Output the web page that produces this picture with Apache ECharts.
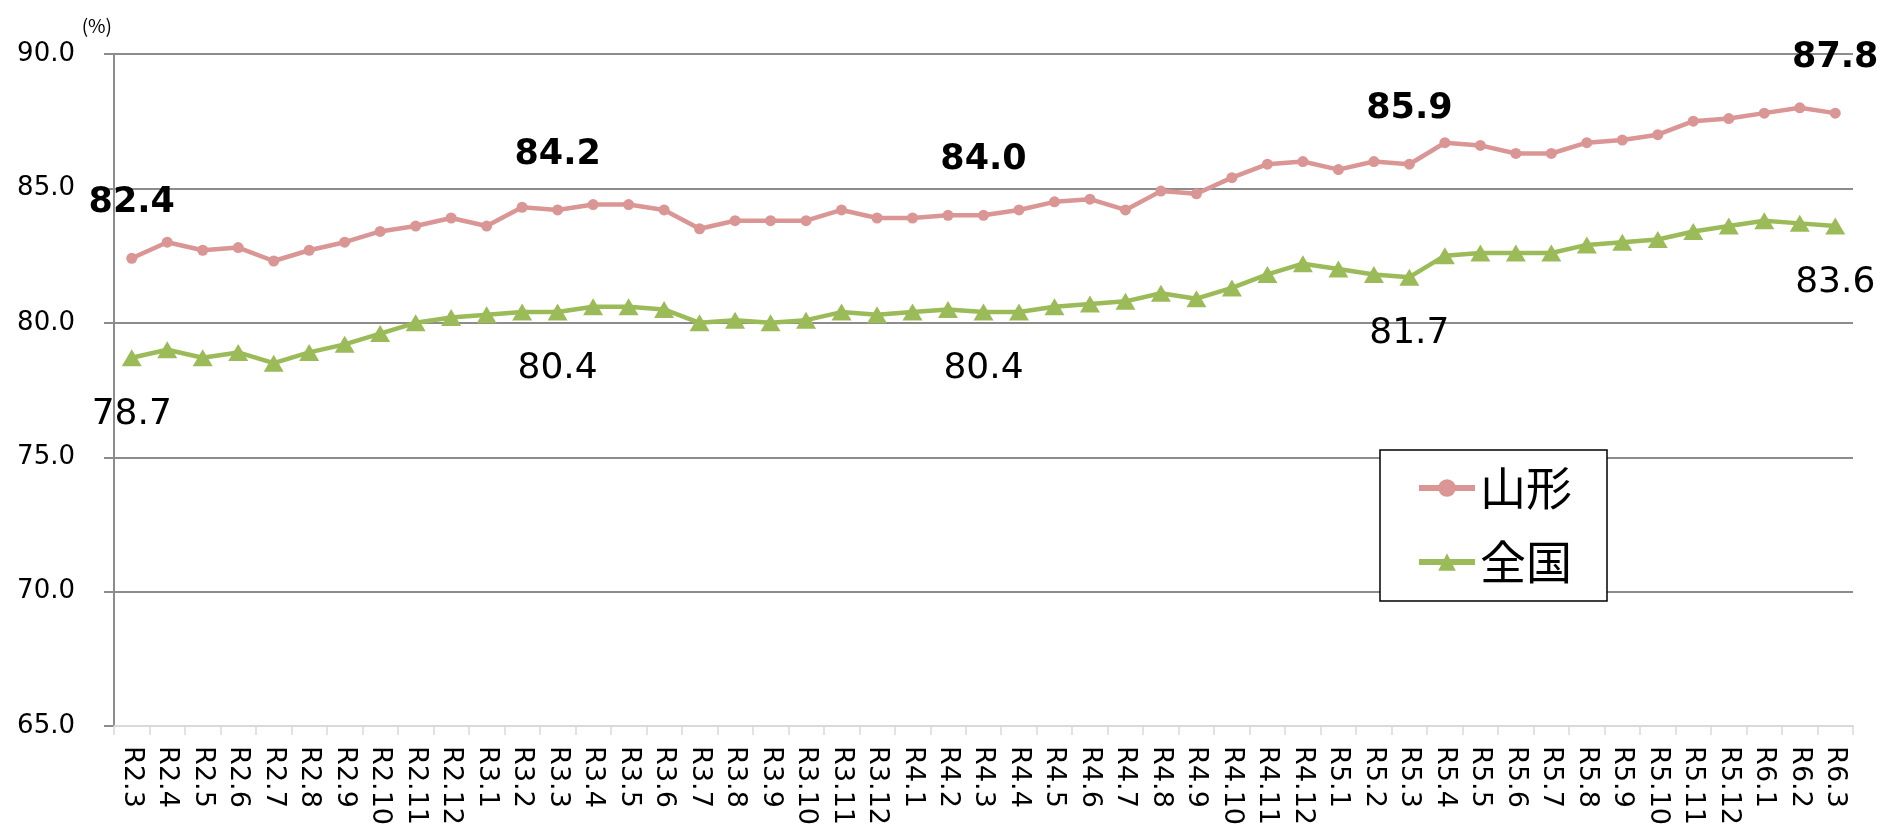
<!DOCTYPE html>
<html>
<head>
<meta charset="utf-8">
<title>山形・全国 推移</title>
<script src="https://cdn.jsdelivr.net/npm/echarts@6/dist/echarts.min.js"></script>
<style>
  html, body { margin: 0; padding: 0; background: #fff; }
  #chart { width: 1882px; height: 828px; }
</style>
</head>
<body>
<div id="chart"></div>
<script>
// Monthly categories, R2.3 through R6.3
const categories = [
  'R2.3','R2.4','R2.5','R2.6','R2.7','R2.8','R2.9','R2.10','R2.11','R2.12',
  'R3.1','R3.2','R3.3','R3.4','R3.5','R3.6','R3.7','R3.8','R3.9','R3.10','R3.11','R3.12',
  'R4.1','R4.2','R4.3','R4.4','R4.5','R4.6','R4.7','R4.8','R4.9','R4.10','R4.11','R4.12',
  'R5.1','R5.2','R5.3','R5.4','R5.5','R5.6','R5.7','R5.8','R5.9','R5.10','R5.11','R5.12',
  'R6.1','R6.2','R6.3'
];

// 山形 (%)
const yamagata = [
  82.4, 83.0, 82.7, 82.8, 82.3, 82.7, 83.0, 83.4, 83.6, 83.9,
  83.6, 84.3, 84.2, 84.4, 84.4, 84.2, 83.5, 83.8, 83.8, 83.8, 84.2, 83.9,
  83.9, 84.0, 84.0, 84.2, 84.5, 84.6, 84.2, 84.9, 84.8, 85.4, 85.9, 86.0,
  85.7, 86.0, 85.9, 86.7, 86.6, 86.3, 86.3, 86.7, 86.8, 87.0, 87.5, 87.6,
  87.8, 88.0, 87.8
];

// 全国 (%)
const zenkoku = [
  78.7, 79.0, 78.7, 78.9, 78.5, 78.9, 79.2, 79.6, 80.0, 80.2,
  80.3, 80.4, 80.4, 80.6, 80.6, 80.5, 80.0, 80.1, 80.0, 80.1, 80.4, 80.3,
  80.4, 80.5, 80.4, 80.4, 80.6, 80.7, 80.8, 81.1, 80.9, 81.3, 81.8, 82.2,
  82.0, 81.8, 81.7, 82.5, 82.6, 82.6, 82.6, 82.9, 83.0, 83.1, 83.4, 83.6,
  83.8, 83.7, 83.6
];

// Months (each March) whose values are printed on the chart
const labelledMonths = ['R2.3', 'R3.3', 'R4.3', 'R5.3', 'R6.3'];

// Value axis range
const yMin = 65;
const yMax = 90;
const yStep = 5;

const NUM_FONT = 'DejaVu Sans, Verdana, sans-serif';
const CJK_FONT = '"Noto Sans CJK JP", sans-serif';

function withLabels(values, labelStyle) {
  return values.map((v, i) => {
    if (labelledMonths.indexOf(categories[i]) === -1) return v;
    return { value: v, label: Object.assign({ show: true }, labelStyle) };
  });
}

const chart = echarts.init(document.getElementById('chart'), null, { renderer: 'canvas' });

chart.setOption({
  animation: false,
  backgroundColor: '#ffffff',
  grid: { left: 114, right: 29, top: 54, bottom: 101, containLabel: false },
  legend: {
    orient: 'vertical',
    left: 1380,
    top: 450,
    padding: [13, 35, 14, 36],
    itemGap: 24,
    itemWidth: 56,
    itemHeight: 22,
    backgroundColor: '#ffffff',
    borderColor: '#000000',
    borderWidth: 1.5,
    borderRadius: 0,
    lineStyle: { width: 6 },
    textStyle: {
      fontFamily: CJK_FONT,
      fontSize: 46,
      lineHeight: 50,
      color: '#000000',
      padding: [0, 0, 0, 0]
    },
    data: ['山形', '全国']
  },
  xAxis: {
    type: 'category',
    data: categories,
    boundaryGap: true,
    axisLine: { show: true, lineStyle: { color: '#d9d9d9', width: 2 } },
    axisTick: { show: true, length: 9, alignWithLabel: false, interval: 0, lineStyle: { color: '#d9d9d9', width: 1.5 } },
    axisLabel: {
      interval: 0,
      rotate: -90,
      margin: 20,
      fontFamily: NUM_FONT,
      fontSize: 27,
      color: '#000000'
    },
    splitLine: { show: false }
  },
  yAxis: {
    type: 'value',
    min: yMin,
    max: yMax,
    interval: yStep,
    name: '(%)',
    nameLocation: 'end',
    nameGap: 19,
    nameTextStyle: {
      fontFamily: CJK_FONT,
      fontSize: 19,
      color: '#000000',
      align: 'right',
      padding: [0, 2, 0, 0]
    },
    axisLine: { show: true, lineStyle: { color: '#8c8c8c', width: 2 } },
    axisTick: { show: true, length: 10, lineStyle: { color: '#8c8c8c', width: 2 } },
    axisLabel: {
      margin: 39,
      fontFamily: NUM_FONT,
      fontSize: 26,
      color: '#000000',
      formatter: v => v.toFixed(1)
    },
    splitLine: { show: true, lineStyle: { color: '#8c8c8c', width: 2 } }
  },
  series: [
    {
      name: '山形',
      type: 'line',
      data: withLabels(yamagata, {
        position: 'top',
        distance: 32,
        fontFamily: NUM_FONT,
        fontSize: 35,
        fontWeight: 'bold',
        color: '#000000',
        formatter: p => Number(p.value).toFixed(1)
      }),
      symbol: 'circle',
      symbolSize: 11,
      showAllSymbol: true,
      lineStyle: { color: '#da9694', width: 4.5 },
      itemStyle: { color: '#da9694' },
      label: { show: false }
    },
    {
      name: '全国',
      type: 'line',
      data: withLabels(zenkoku, {
        position: 'bottom',
        distance: 30,
        fontFamily: NUM_FONT,
        fontSize: 36,
        fontWeight: 'normal',
        color: '#000000',
        formatter: p => Number(p.value).toFixed(1)
      }),
      symbol: 'triangle',
      symbolSize: [20, 17],
      showAllSymbol: true,
      lineStyle: { color: '#9bbb59', width: 4.5 },
      itemStyle: { color: '#9bbb59' },
      label: { show: false }
    }
  ]
});
</script>
</body>
</html>
